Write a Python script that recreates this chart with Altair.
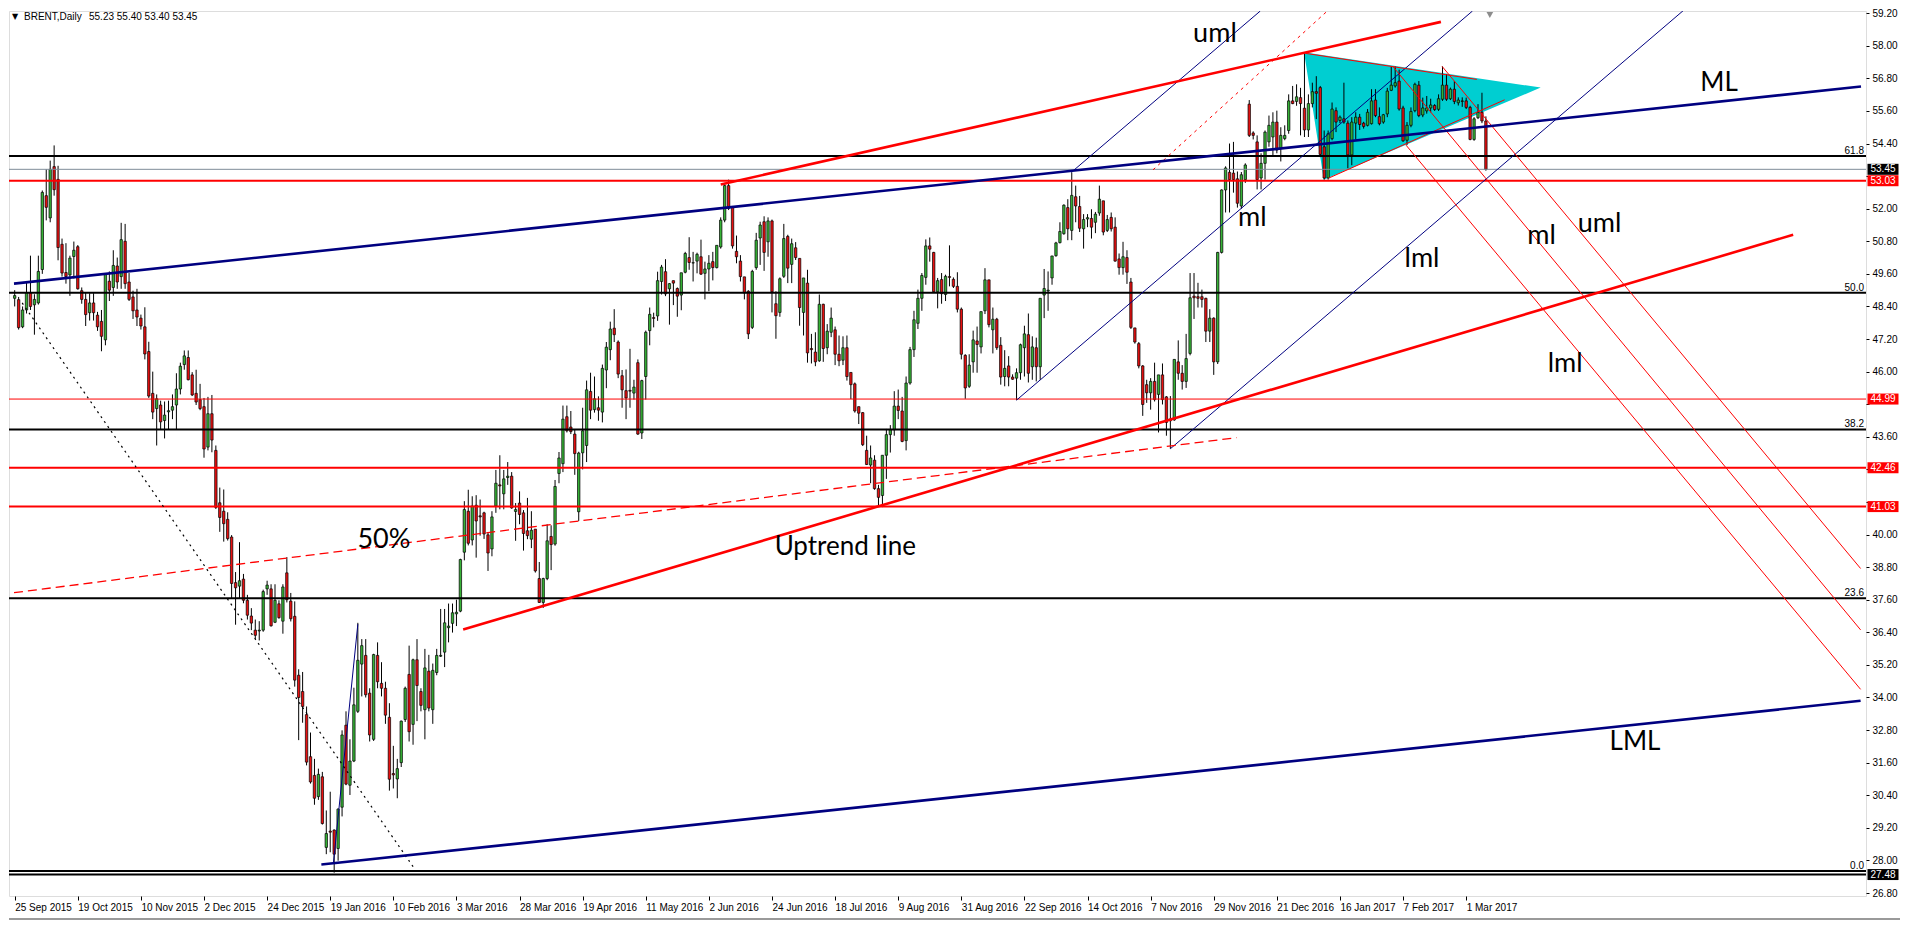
import altair as alt
import pandas as pd

# ---------------- candle data (daily BRENT, bar 1 = 25 Sep 2015) ----------------
OPEN = [
    48.70, 48.65, 47.65, 48.27, 48.91, 48.46, 48.53, 49.76, 52.48, 51.66,
    53.55, 53.08, 50.69, 49.65, 49.56, 50.24, 50.60, 48.98, 48.66, 48.17,
    48.53, 48.08, 47.85, 47.17, 49.33, 49.10, 49.89, 49.50, 50.80, 49.30,
    48.75, 48.27, 47.97, 47.65, 46.74, 45.20, 44.64, 44.77, 44.20, 44.52,
    44.58, 44.77, 45.36, 46.26, 46.52, 45.88, 45.20, 44.97, 44.71, 43.22,
    44.45, 43.10, 41.17, 40.86, 40.56, 39.91, 38.23, 38.10, 38.36, 37.58,
    37.00, 36.48, 36.45, 36.48, 38.00, 38.00, 36.77, 37.45, 36.81, 38.59,
    37.55, 36.99, 34.82, 34.22, 33.37, 31.82, 31.13, 30.35, 31.08, 28.48,
    29.08, 29.12, 28.44, 29.96, 32.98, 30.77, 31.66, 33.49, 35.23, 35.55,
    34.16, 32.46, 35.55, 34.52, 34.34, 33.27, 31.20, 31.00, 31.60, 33.19,
    34.85, 33.01, 35.39, 34.22, 33.55, 34.97, 33.55, 34.92, 35.52, 35.67,
    36.57, 36.73, 37.08, 37.18, 39.35, 40.86, 39.80, 41.08, 40.69, 40.80,
    39.99, 39.47, 41.05, 41.83, 41.50, 42.10, 42.15, 40.85, 41.16, 40.80,
    40.14, 39.83, 40.20, 38.38, 37.50, 38.38, 39.93, 39.65, 42.25, 42.61,
    44.34, 43.96, 43.70, 40.84, 43.01, 43.28, 45.27, 44.60, 44.67, 44.51,
    46.06, 46.81, 47.60, 47.09, 45.85, 45.30, 45.31, 45.21, 46.33, 43.74,
    45.82, 47.51, 47.99, 48.05, 49.32, 49.68, 49.05, 49.35, 49.06, 48.82,
    49.66, 50.20, 50.00, 50.07, 50.23, 49.62, 49.78, 50.05, 49.83, 50.59,
    51.58, 52.85, 52.08, 50.43, 50.07, 49.49, 48.96, 47.63, 49.83, 50.92,
    51.52, 50.78, 51.55, 48.50, 48.18, 49.51, 50.98, 49.95, 50.56, 50.17,
    48.18, 49.26, 46.85, 46.72, 46.40, 48.48, 46.88, 47.45, 47.54, 46.64,
    46.42, 46.88, 45.97, 45.55, 44.71, 44.49, 43.10, 42.56, 42.74, 41.69,
    41.44, 42.92, 43.68, 43.86, 44.73, 44.55, 43.46, 45.58, 46.81, 47.78,
    48.70, 49.47, 50.63, 50.39, 48.94, 49.39, 48.84, 49.50, 49.40, 49.14,
    48.30, 46.60, 45.46, 46.36, 47.13, 46.91, 48.24, 49.38, 47.54, 47.93,
    46.97, 45.82, 46.21, 45.80, 45.76, 45.96, 46.88, 47.36, 46.18, 46.88,
    46.18, 48.82, 48.97, 49.45, 50.27, 50.75, 51.08, 52.04, 51.20, 52.44,
    52.08, 51.26, 51.62, 51.64, 51.50, 51.84, 52.29, 51.20, 51.68, 51.32,
    50.15, 49.83, 50.20, 49.30, 47.61, 47.03, 46.21, 45.52, 45.22, 45.64,
    45.16, 45.88, 45.07, 44.25, 44.22, 46.36, 45.94, 45.64, 46.67, 48.78,
    48.76, 48.76, 48.70, 47.49, 47.97, 46.36, 50.39, 52.69, 53.34, 53.31,
    53.10, 52.10, 53.07, 55.85, 54.79, 54.46, 53.13, 53.67, 54.46, 54.64,
    55.19, 54.22, 54.58, 54.88, 55.97, 55.95, 56.09, 55.70, 54.90, 55.87,
    56.31, 56.46, 54.28, 53.13, 54.58, 55.61, 55.25, 55.31, 55.15, 53.98,
    55.15, 55.37, 55.15, 55.07, 55.13, 56.00, 55.39, 55.19, 55.49, 56.36,
    56.52, 56.70, 55.71, 54.52, 55.07, 55.61, 56.55, 55.45, 55.60, 55.71,
    55.80, 55.66, 56.03, 56.55, 56.05, 56.40, 55.90, 55.95, 55.97, 55.73,
    54.55, 55.35, 55.55, 55.23,
]
HIGH = [
    49.00, 48.75, 48.40, 49.30, 50.27, 48.85, 50.27, 52.67, 53.45, 53.77,
    54.33, 53.58, 50.90, 50.73, 50.27, 50.79, 50.66, 49.10, 48.92, 48.89,
    48.89, 48.20, 48.27, 49.63, 49.69, 50.47, 50.20, 51.48, 51.44, 49.63,
    48.98, 49.05, 48.10, 48.37, 47.10, 46.00, 45.16, 44.93, 44.90, 44.93,
    45.16, 45.94, 46.33, 46.78, 46.78, 45.98, 46.07, 45.55, 45.03, 45.07,
    45.14, 43.28, 41.73, 41.66, 40.82, 39.98, 38.62, 39.72, 38.55, 37.78,
    37.29, 36.87, 36.81, 37.97, 38.30, 38.17, 38.17, 37.58, 38.17, 39.17,
    37.85, 37.54, 35.04, 34.94, 33.67, 32.71, 31.74, 31.38, 31.26, 29.84,
    30.53, 29.14, 29.92, 32.79, 33.49, 32.46, 34.36, 36.75, 36.15, 36.15,
    34.34, 35.61, 36.03, 35.30, 34.58, 33.79, 32.22, 31.74, 33.15, 34.40,
    35.91, 35.43, 36.15, 34.34, 35.79, 35.57, 35.25, 35.79, 37.26, 37.26,
    37.46, 37.46, 37.60, 39.11, 41.23, 41.65, 41.41, 41.45, 41.29, 40.84,
    40.08, 40.86, 42.38, 42.92, 42.38, 42.67, 42.30, 41.16, 41.59, 40.90,
    41.35, 40.86, 40.20, 38.99, 38.41, 40.38, 40.34, 42.01, 43.04, 44.75,
    44.75, 44.55, 43.88, 43.05, 44.67, 45.67, 45.96, 45.82, 45.09, 46.26,
    47.09, 47.84, 48.30, 47.15, 46.06, 46.08, 46.84, 45.70, 46.45, 45.70,
    47.51, 48.36, 48.17, 49.68, 49.93, 50.14, 49.26, 49.35, 49.10, 49.64,
    50.41, 50.95, 50.41, 50.38, 50.86, 50.05, 50.29, 50.41, 50.65, 51.68,
    52.95, 53.07, 52.10, 51.01, 50.29, 49.49, 49.00, 49.75, 51.11, 51.52,
    51.72, 51.68, 51.60, 48.96, 49.47, 51.44, 51.04, 50.90, 50.77, 50.17,
    49.45, 49.75, 47.39, 47.45, 48.84, 48.50, 47.75, 48.36, 47.66, 47.33,
    47.30, 47.33, 45.97, 45.60, 44.71, 44.51, 43.64, 43.28, 42.92, 41.83,
    42.92, 43.89, 44.03, 45.28, 45.34, 45.07, 45.82, 46.91, 48.24, 49.02,
    49.63, 50.87, 50.94, 50.41, 49.45, 49.63, 49.57, 50.65, 49.47, 49.66,
    48.36, 46.64, 46.64, 47.51, 47.66, 48.21, 49.81, 49.38, 48.36, 47.98,
    47.27, 46.79, 46.57, 45.90, 46.12, 47.03, 47.69, 48.14, 47.30, 47.25,
    48.70, 49.78, 49.69, 50.26, 50.78, 51.50, 52.16, 52.35, 53.34, 52.85,
    52.47, 51.80, 51.80, 51.98, 51.88, 52.85, 52.29, 51.77, 51.86, 51.68,
    50.35, 50.78, 50.47, 49.45, 47.61, 47.09, 46.24, 45.70, 45.76, 46.33,
    45.88, 46.30, 45.10, 45.10, 46.45, 47.15, 46.24, 47.39, 49.63, 49.63,
    49.27, 49.02, 48.72, 48.30, 48.00, 50.41, 52.71, 53.56, 54.40, 54.46,
    53.37, 53.35, 53.67, 56.00, 54.85, 54.70, 54.04, 54.88, 55.43, 55.55,
    55.61, 55.00, 55.07, 56.21, 56.52, 56.58, 56.45, 57.76, 56.21, 56.64,
    56.88, 56.52, 54.88, 54.88, 55.91, 55.73, 55.43, 56.64, 55.25, 55.37,
    55.55, 55.49, 55.20, 55.67, 56.40, 56.40, 55.73, 55.49, 56.45, 57.24,
    57.24, 57.12, 55.79, 55.19, 55.73, 56.64, 56.70, 56.09, 56.15, 56.05,
    55.85, 56.21, 57.24, 56.96, 56.46, 56.70, 56.10, 56.10, 56.09, 55.79,
    55.37, 55.85, 56.27, 55.40,
]
LOW = [
    48.40, 47.55, 47.60, 48.14, 48.27, 47.36, 48.47, 49.60, 51.57, 51.50,
    52.48, 50.10, 49.50, 49.24, 48.79, 49.43, 49.02, 48.50, 47.68, 47.88,
    47.88, 47.50, 46.75, 46.97, 48.60, 48.79, 49.05, 49.05, 49.05, 48.60,
    47.94, 47.68, 47.55, 46.45, 45.03, 44.25, 43.28, 43.87, 43.54, 43.87,
    44.25, 43.87, 45.16, 46.07, 45.68, 45.10, 44.77, 44.58, 42.83, 43.10,
    43.03, 40.94, 40.10, 39.74, 39.78, 37.65, 36.68, 37.65, 37.47, 36.87,
    36.48, 36.16, 36.10, 36.42, 37.78, 36.61, 36.74, 36.90, 36.35, 37.50,
    36.80, 34.40, 32.43, 33.07, 31.50, 30.83, 30.05, 30.23, 29.32, 28.23,
    28.30, 27.55, 27.99, 29.62, 30.77, 30.41, 31.62, 33.43, 34.04, 34.00,
    32.38, 32.40, 34.34, 34.04, 33.03, 30.57, 30.65, 30.29, 31.44, 33.10,
    32.38, 32.26, 33.13, 33.49, 32.46, 33.49, 33.03, 34.82, 35.49, 35.12,
    36.03, 36.39, 36.63, 37.14, 39.05, 39.60, 39.60, 39.15, 39.96, 39.84,
    38.66, 39.20, 40.80, 40.93, 40.93, 41.83, 40.95, 39.77, 40.38, 39.41,
    39.83, 39.50, 38.60, 37.48, 37.30, 38.32, 38.69, 39.59, 41.89, 42.30,
    43.76, 43.70, 42.20, 40.50, 42.40, 42.67, 44.25, 44.49, 44.19, 44.13,
    45.39, 46.42, 47.09, 45.76, 44.67, 44.25, 44.67, 44.97, 43.67, 43.52,
    44.97, 46.97, 47.63, 47.87, 48.84, 48.78, 47.73, 48.45, 48.02, 48.26,
    49.62, 49.75, 49.32, 49.62, 49.56, 48.66, 48.96, 49.36, 49.80, 50.53,
    51.50, 51.95, 50.53, 49.99, 49.32, 48.66, 47.20, 47.57, 49.75, 49.93,
    49.71, 50.23, 48.18, 47.21, 48.02, 49.45, 49.26, 49.26, 50.11, 47.69,
    47.33, 46.33, 46.30, 46.20, 46.36, 46.36, 46.64, 47.27, 46.24, 46.20,
    46.24, 45.67, 44.99, 44.49, 44.07, 43.26, 42.56, 41.89, 41.65, 41.04,
    41.01, 42.05, 43.02, 43.64, 44.25, 43.40, 43.10, 45.52, 46.54, 47.57,
    48.24, 49.20, 50.05, 48.90, 48.33, 48.50, 48.60, 49.14, 49.08, 48.18,
    46.45, 45.00, 45.40, 45.96, 45.96, 46.67, 48.12, 47.63, 46.67, 46.80,
    45.52, 45.46, 45.46, 45.70, 44.95, 45.70, 45.82, 45.60, 45.70, 45.64,
    45.70, 47.97, 48.24, 49.20, 50.23, 50.72, 51.04, 50.84, 50.84, 51.50,
    51.14, 50.53, 51.32, 50.90, 51.10, 51.74, 51.02, 51.14, 51.16, 50.05,
    49.57, 49.57, 49.23, 47.57, 47.03, 46.12, 44.37, 44.85, 44.60, 44.90,
    43.76, 44.79, 43.64, 43.16, 44.19, 45.70, 45.34, 45.40, 46.60, 47.94,
    48.36, 48.36, 47.09, 47.09, 45.88, 46.28, 50.35, 51.86, 51.86, 52.59,
    52.04, 52.00, 52.95, 54.64, 54.55, 52.71, 52.71, 53.07, 54.28, 53.92,
    54.04, 53.74, 54.52, 54.76, 55.85, 55.79, 54.70, 54.64, 54.64, 55.73,
    55.30, 53.90, 53.07, 53.07, 54.52, 54.82, 55.15, 55.13, 53.49, 53.60,
    54.55, 54.90, 54.95, 55.03, 55.10, 55.37, 55.07, 55.13, 55.37, 56.33,
    56.46, 55.61, 54.46, 54.34, 55.00, 55.55, 55.37, 55.37, 55.50, 55.55,
    55.60, 55.60, 55.97, 55.97, 56.00, 55.85, 55.80, 55.75, 55.67, 54.52,
    54.50, 55.30, 55.15, 53.40,
]
CLOSE = [
    48.80, 47.62, 48.27, 48.91, 48.40, 48.66, 49.69, 52.60, 52.05, 53.45,
    52.70, 50.57, 49.63, 49.50, 50.18, 50.47, 49.05, 48.66, 48.10, 48.53,
    48.17, 47.65, 47.30, 49.60, 49.00, 49.91, 49.30, 50.86, 49.24, 48.66,
    48.24, 48.01, 47.68, 46.65, 45.10, 44.51, 45.00, 44.15, 44.40, 44.56,
    44.71, 45.36, 46.20, 46.58, 45.70, 45.14, 44.88, 44.64, 43.15, 44.45,
    43.48, 41.00, 40.63, 40.40, 39.85, 38.20, 38.04, 38.30, 37.58, 37.03,
    36.74, 36.29, 36.48, 37.90, 38.14, 36.64, 37.58, 36.94, 38.07, 37.60,
    36.90, 34.64, 34.00, 33.67, 31.62, 30.89, 30.29, 31.17, 29.36, 28.99,
    29.04, 28.23, 29.89, 32.62, 30.81, 31.66, 33.73, 35.37, 35.91, 34.10,
    32.62, 35.58, 34.58, 34.34, 33.35, 30.99, 31.15, 31.38, 33.13, 34.34,
    32.74, 35.39, 34.44, 33.71, 35.09, 33.61, 35.00, 35.55, 35.55, 36.75,
    36.63, 37.12, 37.14, 39.08, 40.92, 39.68, 41.05, 40.50, 40.65, 40.02,
    39.32, 40.65, 41.89, 41.79, 42.05, 42.15, 40.98, 40.92, 40.74, 40.04,
    39.96, 40.16, 38.66, 37.50, 38.38, 39.77, 39.63, 41.77, 42.82, 44.25,
    43.82, 43.79, 42.98, 43.00, 43.82, 45.33, 44.58, 45.00, 44.58, 46.12,
    46.90, 47.57, 47.36, 45.91, 45.33, 45.03, 45.28, 45.43, 43.70, 45.67,
    47.45, 48.11, 47.96, 49.35, 49.85, 48.86, 49.24, 49.26, 48.78, 49.64,
    50.35, 50.02, 50.01, 50.32, 49.59, 49.78, 49.99, 49.83, 50.65, 51.58,
    52.85, 52.01, 50.63, 50.23, 49.50, 48.90, 47.39, 49.69, 50.84, 51.40,
    50.39, 51.55, 48.94, 48.06, 49.42, 50.90, 49.81, 50.71, 50.20, 48.36,
    49.45, 46.69, 46.81, 46.36, 48.48, 46.85, 47.49, 47.97, 46.64, 46.40,
    46.88, 45.82, 45.52, 44.55, 44.47, 43.31, 42.58, 42.82, 41.69, 41.37,
    42.92, 43.68, 43.86, 44.73, 44.57, 43.43, 45.58, 46.81, 47.91, 48.70,
    49.54, 50.63, 50.51, 48.94, 49.35, 48.87, 49.51, 49.47, 49.14, 48.30,
    46.64, 45.40, 46.24, 47.17, 47.00, 48.21, 49.38, 47.73, 47.93, 46.88,
    45.80, 46.12, 45.80, 45.72, 45.96, 46.99, 47.39, 45.94, 46.91, 46.18,
    48.70, 49.06, 49.00, 50.26, 50.74, 51.16, 52.13, 51.26, 52.49, 52.10,
    51.28, 51.60, 51.67, 51.32, 51.80, 52.35, 51.14, 51.60, 51.26, 50.07,
    49.83, 50.23, 49.66, 47.63, 47.09, 46.21, 44.79, 45.22, 45.64, 44.97,
    45.88, 44.97, 44.13, 44.19, 46.45, 45.94, 45.64, 46.48, 48.72, 48.72,
    48.70, 48.66, 47.49, 47.97, 46.36, 50.39, 52.69, 53.50, 53.07, 53.07,
    52.20, 53.25, 53.61, 54.70, 54.70, 53.07, 53.67, 54.82, 55.07, 55.19,
    54.16, 54.70, 54.70, 55.97, 55.87, 56.12, 55.87, 54.90, 55.87, 56.31,
    56.25, 54.00, 53.13, 54.76, 55.67, 55.19, 55.37, 55.19, 53.98, 55.19,
    55.37, 55.10, 55.03, 55.55, 55.97, 55.43, 55.13, 55.46, 56.33, 56.55,
    56.64, 55.67, 54.50, 55.07, 55.58, 56.58, 55.43, 55.71, 55.71, 55.82,
    55.65, 56.05, 56.55, 56.03, 56.40, 55.95, 56.00, 55.97, 55.73, 54.55,
    55.31, 55.55, 55.23, 53.45,
]

# x-axis date labels (one every 16 bars, starting with bar 1)
DATE_LABELS = ["25 Sep 2015", "19 Oct 2015", "10 Nov 2015", "2 Dec 2015", "24 Dec 2015",
               "19 Jan 2016", "10 Feb 2016", "3 Mar 2016", "28 Mar 2016", "19 Apr 2016",
               "11 May 2016", "2 Jun 2016", "24 Jun 2016", "18 Jul 2016", "9 Aug 2016",
               "31 Aug 2016", "22 Sep 2016", "14 Oct 2016", "7 Nov 2016", "29 Nov 2016",
               "21 Dec 2016", "16 Jan 2017", "7 Feb 2017", "1 Mar 2017"]
Y_TICKS = [26.80, 28.00, 29.20, 30.40, 31.60, 32.80, 34.00, 35.20, 36.40, 37.60,
           38.80, 40.00, 41.20, 42.40, 43.60, 44.80, 46.00, 47.20, 48.40, 49.60,
           50.80, 52.00, 53.20, 54.40, 55.60, 56.80, 58.00, 59.20]
HIDDEN_TICK_LABELS = [53.20, 44.80, 42.40, 41.20]   # covered by the price tags

# horizontal levels
FIB_NAMES = ["61.8", "50.0", "38.2", "23.6", "0.0"]
FIB_PRICES = [53.94, 48.90, 43.87, 37.65, 27.61]
RED_LEVELS = [53.03, 44.99, 42.46, 41.03]
RED_LEVEL_W = [2, 1, 2, 2]
BID_PRICE = 53.45
LOW_PRICE = 27.48

# price tags on the right axis
TAG_PRICES = [53.45, 53.03, 44.99, 42.46, 41.03, 27.48]
TAG_COLORS = ["#000000", "#ff0000", "#ff0000", "#ff0000", "#ff0000", "#000000"]

# drawn objects, anchored at (bar number, price)
NAVY_THICK = {"x1": [0.825, 78.75], "y1": [49.24, 27.85], "x2": [469.1, 469.0], "y2": [56.50, 33.88]}
RED_THICK = {"x1": [180.0, 114.7], "y1": [52.89, 36.50], "x2": [362.6, 451.9], "y2": [58.88, 51.04]}
NAVY_THIN = {"x1": [268.9, 255.0, 294.0, 81.8], "y1": [53.34, 44.95, 43.16, 27.90],
             "x2": [316.8, 370.6, 424.0, 88.0], "y2": [59.28, 59.28, 59.29, 36.70]}
RED_THIN = {"x1": [328.3, 334.2, 353.75, 350.4, 362.9], "y1": [57.72, 53.13, 54.34, 57.24, 57.24],
            "x2": [371.7, 378.75, 469.0, 469.0, 469.0], "y2": [56.76, 56.01, 34.30, 36.49, 38.75]}
RED_DASHED = {"x1": [0.825], "y1": [37.86], "x2": [310.8], "y2": [43.57]}
RED_DOTTED = {"x1": [289.6], "y1": [53.43], "x2": [333.8], "y2": [59.28]}
BLACK_DOTTED = {"x1": [2.9], "y1": [48.53], "x2": [102.3], "y2": [27.71]}

TRI_BARS = [327.9, 332.9, 387.9]
TRI_TOP = [57.76, 57.65, 56.46]
TRI_BOTTOM = [57.76, 53.07, 56.46]

TEXT_LABELS = ["uml", "ml", "lml", "ml", "uml", "lml", "ML", "LML", "50%", "Uptrend line"]
TEXT_BARS = [305.3, 314.8, 357.8, 388.1, 402.8, 394.1, 433.1, 411.8, 94.6, 211.6]
TEXT_PRICES = [58.13, 51.35, 49.86, 50.70, 51.13, 45.98, 56.34, 32.06, 39.51, 39.23]
TEXT_SIZES = [27, 27, 27, 27, 27, 27, 26, 26, 27, 26]

HEADER_NAME = "BRENT,Daily"
HEADER_VALUES = "55.23 55.40 53.40 53.45"
SHIFT_MARK_BAR = [375.0]

# ---------------- chart ----------------
W, H = 1857, 885
X_DOMAIN = [0.825, 469.1]
Y_DOMAIN = [26.69, 59.28]
AXFONT = "Liberation Sans"
GREEN = "#36b236"
RED = "#e81010"

XS = alt.Scale(domain=X_DOMAIN, nice=False, zero=False)
YS = alt.Scale(domain=Y_DOMAIN, nice=False, zero=False)
DATE_BARS = list(range(1, 1 + 16 * len(DATE_LABELS), 16))
label_js = "[" + ",".join("'%s'" % s for s in DATE_LABELS) + "][round((datum.value - 1) / 16)]"
hidden_js = "[" + ",".join("%.2f" % v for v in HIDDEN_TICK_LABELS) + "]"
ylabel_js = ("indexof(%s, round(datum.value * 100) / 100) >= 0 ? '' : format(datum.value, '.2f')"
             % hidden_js)

XAX = alt.Axis(values=DATE_BARS, labelExpr=label_js, title=None, orient="bottom",
               tickSize=4, tickColor="black", domain=False, grid=False,
               labelAlign="left", labelBaseline="top", labelPadding=2, labelFont=AXFONT,
               labelFontSize=10, labelColor="black", labelOverlap=False, labelFlush=False)
YAX = alt.Axis(values=Y_TICKS, labelExpr=ylabel_js, orient="right", title=None,
               tickSize=3, tickColor="black", domain=False, grid=False,
               labelPadding=3, labelFont=AXFONT, labelFontSize=10, labelColor="black",
               labelOverlap=False, labelFlush=False)


def X(f):
    return alt.X(f, type="quantitative", scale=XS, axis=XAX)


def Y(f):
    return alt.Y(f, type="quantitative", scale=YS, axis=YAX)


bars = pd.DataFrame({"n": list(range(1, len(OPEN) + 1)), "o": OPEN, "h": HIGH, "l": LOW, "c": CLOSE})
bars["dir"] = ["up" if c >= o else "down" for o, c in zip(OPEN, CLOSE)]

tri = alt.Chart(pd.DataFrame({"tx": TRI_BARS, "top": TRI_TOP, "bot": TRI_BOTTOM})).mark_area(
    color="#00ced1", opacity=1).encode(x=X("tx"), y=Y("top"), y2=alt.Y2("bot"))

wick = alt.Chart(bars).mark_rule(color="black", strokeWidth=1).encode(
    x=X("n"), y=Y("l"), y2=alt.Y2("h"))
body = alt.Chart(bars).mark_bar(size=2.4, stroke="black", strokeWidth=0.7).encode(
    x=X("n"), y=Y("o"), y2=alt.Y2("c"),
    color=alt.Color("dir:N", scale=alt.Scale(domain=["up", "down"], range=[GREEN, RED]), legend=None))

hl_df = pd.DataFrame({
    "p": FIB_PRICES + [LOW_PRICE] + RED_LEVELS + [BID_PRICE],
    "col": ["#000000"] * (len(FIB_PRICES) + 1) + ["#ff0000"] * len(RED_LEVELS) + ["#7f8c99"],
    "w": [2] * (len(FIB_PRICES) + 1) + RED_LEVEL_W + [1],
})
hlines = alt.Chart(hl_df).mark_rule().encode(
    y=Y("p"), color=alt.Color("col:N", scale=None), strokeWidth=alt.StrokeWidth("w:Q", scale=None))


def seg_layer(d, color, width, dash=None):
    kw = dict(color=color, strokeWidth=width, clip=True)
    if dash:
        kw["strokeDash"] = dash
    return alt.Chart(pd.DataFrame(d)).mark_rule(**kw).encode(
        x=X("x1"), y=Y("y1"), x2=alt.X2("x2"), y2=alt.Y2("y2"))


segs = [
    seg_layer(NAVY_THIN, "#000080", 1),
    seg_layer(RED_THIN, "#ff0000", 1),
    seg_layer(RED_DASHED, "#ff0000", 1.3, [9, 5]),
    seg_layer(RED_DOTTED, "#ff0000", 1, [3, 4]),
    seg_layer(BLACK_DOTTED, "#000000", 1.2, [2, 4]),
    seg_layer(NAVY_THICK, "#000080", 2.6),
    seg_layer(RED_THICK, "#ff0000", 2.6),
]

texts = alt.Chart(pd.DataFrame({"tx": TEXT_BARS, "ty": TEXT_PRICES, "lab": TEXT_LABELS, "fs": TEXT_SIZES})).mark_text(
    font="Lato", color="black", align="center", baseline="alphabetic").encode(
    x=X("tx"), y=Y("ty"), text="lab:N", size=alt.Size("fs:Q", scale=None))

fib_lab = alt.Chart(pd.DataFrame({"p": FIB_PRICES, "lab": FIB_NAMES})).mark_text(
    font=AXFONT, fontSize=10, color="black", align="right", baseline="alphabetic", dy=-2).encode(
    x=alt.value(W - 2), y=Y("p"), text="lab:N")

tag_df = pd.DataFrame({"p": TAG_PRICES, "col": TAG_COLORS, "lab": ["%.2f" % v for v in TAG_PRICES]})
tag_box = alt.Chart(tag_df).mark_tick(orient="horizontal", size=31, thickness=11, opacity=1).encode(
    x=alt.value(W + 17), y=Y("p"), color=alt.Color("col:N", scale=None))
tag_txt = alt.Chart(tag_df).mark_text(font=AXFONT, fontSize=10, color="white", align="center",
                                      baseline="middle").encode(
    x=alt.value(W + 17), y=Y("p"), text="lab:N")

hdr_df = pd.DataFrame({"a": [0]})
hdr_tri = alt.Chart(hdr_df).mark_text(text="▼", font="DejaVu Sans", fontSize=8, color="black",
                                      align="left", baseline="middle").encode(
    x=alt.value(3), y=alt.value(6))
hdr_name = alt.Chart(hdr_df).mark_text(text=HEADER_NAME, font=AXFONT, fontSize=10, color="black",
                                       align="left", baseline="middle").encode(
    x=alt.value(15), y=alt.value(6))
hdr_vals = alt.Chart(hdr_df).mark_text(text=HEADER_VALUES, font=AXFONT, fontSize=10, color="black",
                                       align="left", baseline="middle").encode(
    x=alt.value(80), y=alt.value(6))

shift_mark = alt.Chart(pd.DataFrame({"n": SHIFT_MARK_BAR})).mark_point(
    shape="triangle-down", filled=True, color="#8c8c8c", size=45, opacity=1).encode(
    x=X("n"), y=alt.value(4))

frame = alt.Chart(hdr_df).mark_rule(color="#9a9a9a", strokeWidth=2).encode(
    x=alt.value(0), x2=alt.value(W + 34), y=alt.value(H + 23), y2=alt.value(H + 23))

chart = alt.layer(
    tri, wick, body, hlines, *segs, texts, fib_lab, tag_box, tag_txt,
    hdr_tri, hdr_name, hdr_vals, shift_mark, frame
).properties(width=W, height=H, padding=0).configure_view(
    stroke="black", strokeWidth=1
).configure(background="white")

chart.save("out.html", embed_options={"renderer": "svg", "actions": False})
